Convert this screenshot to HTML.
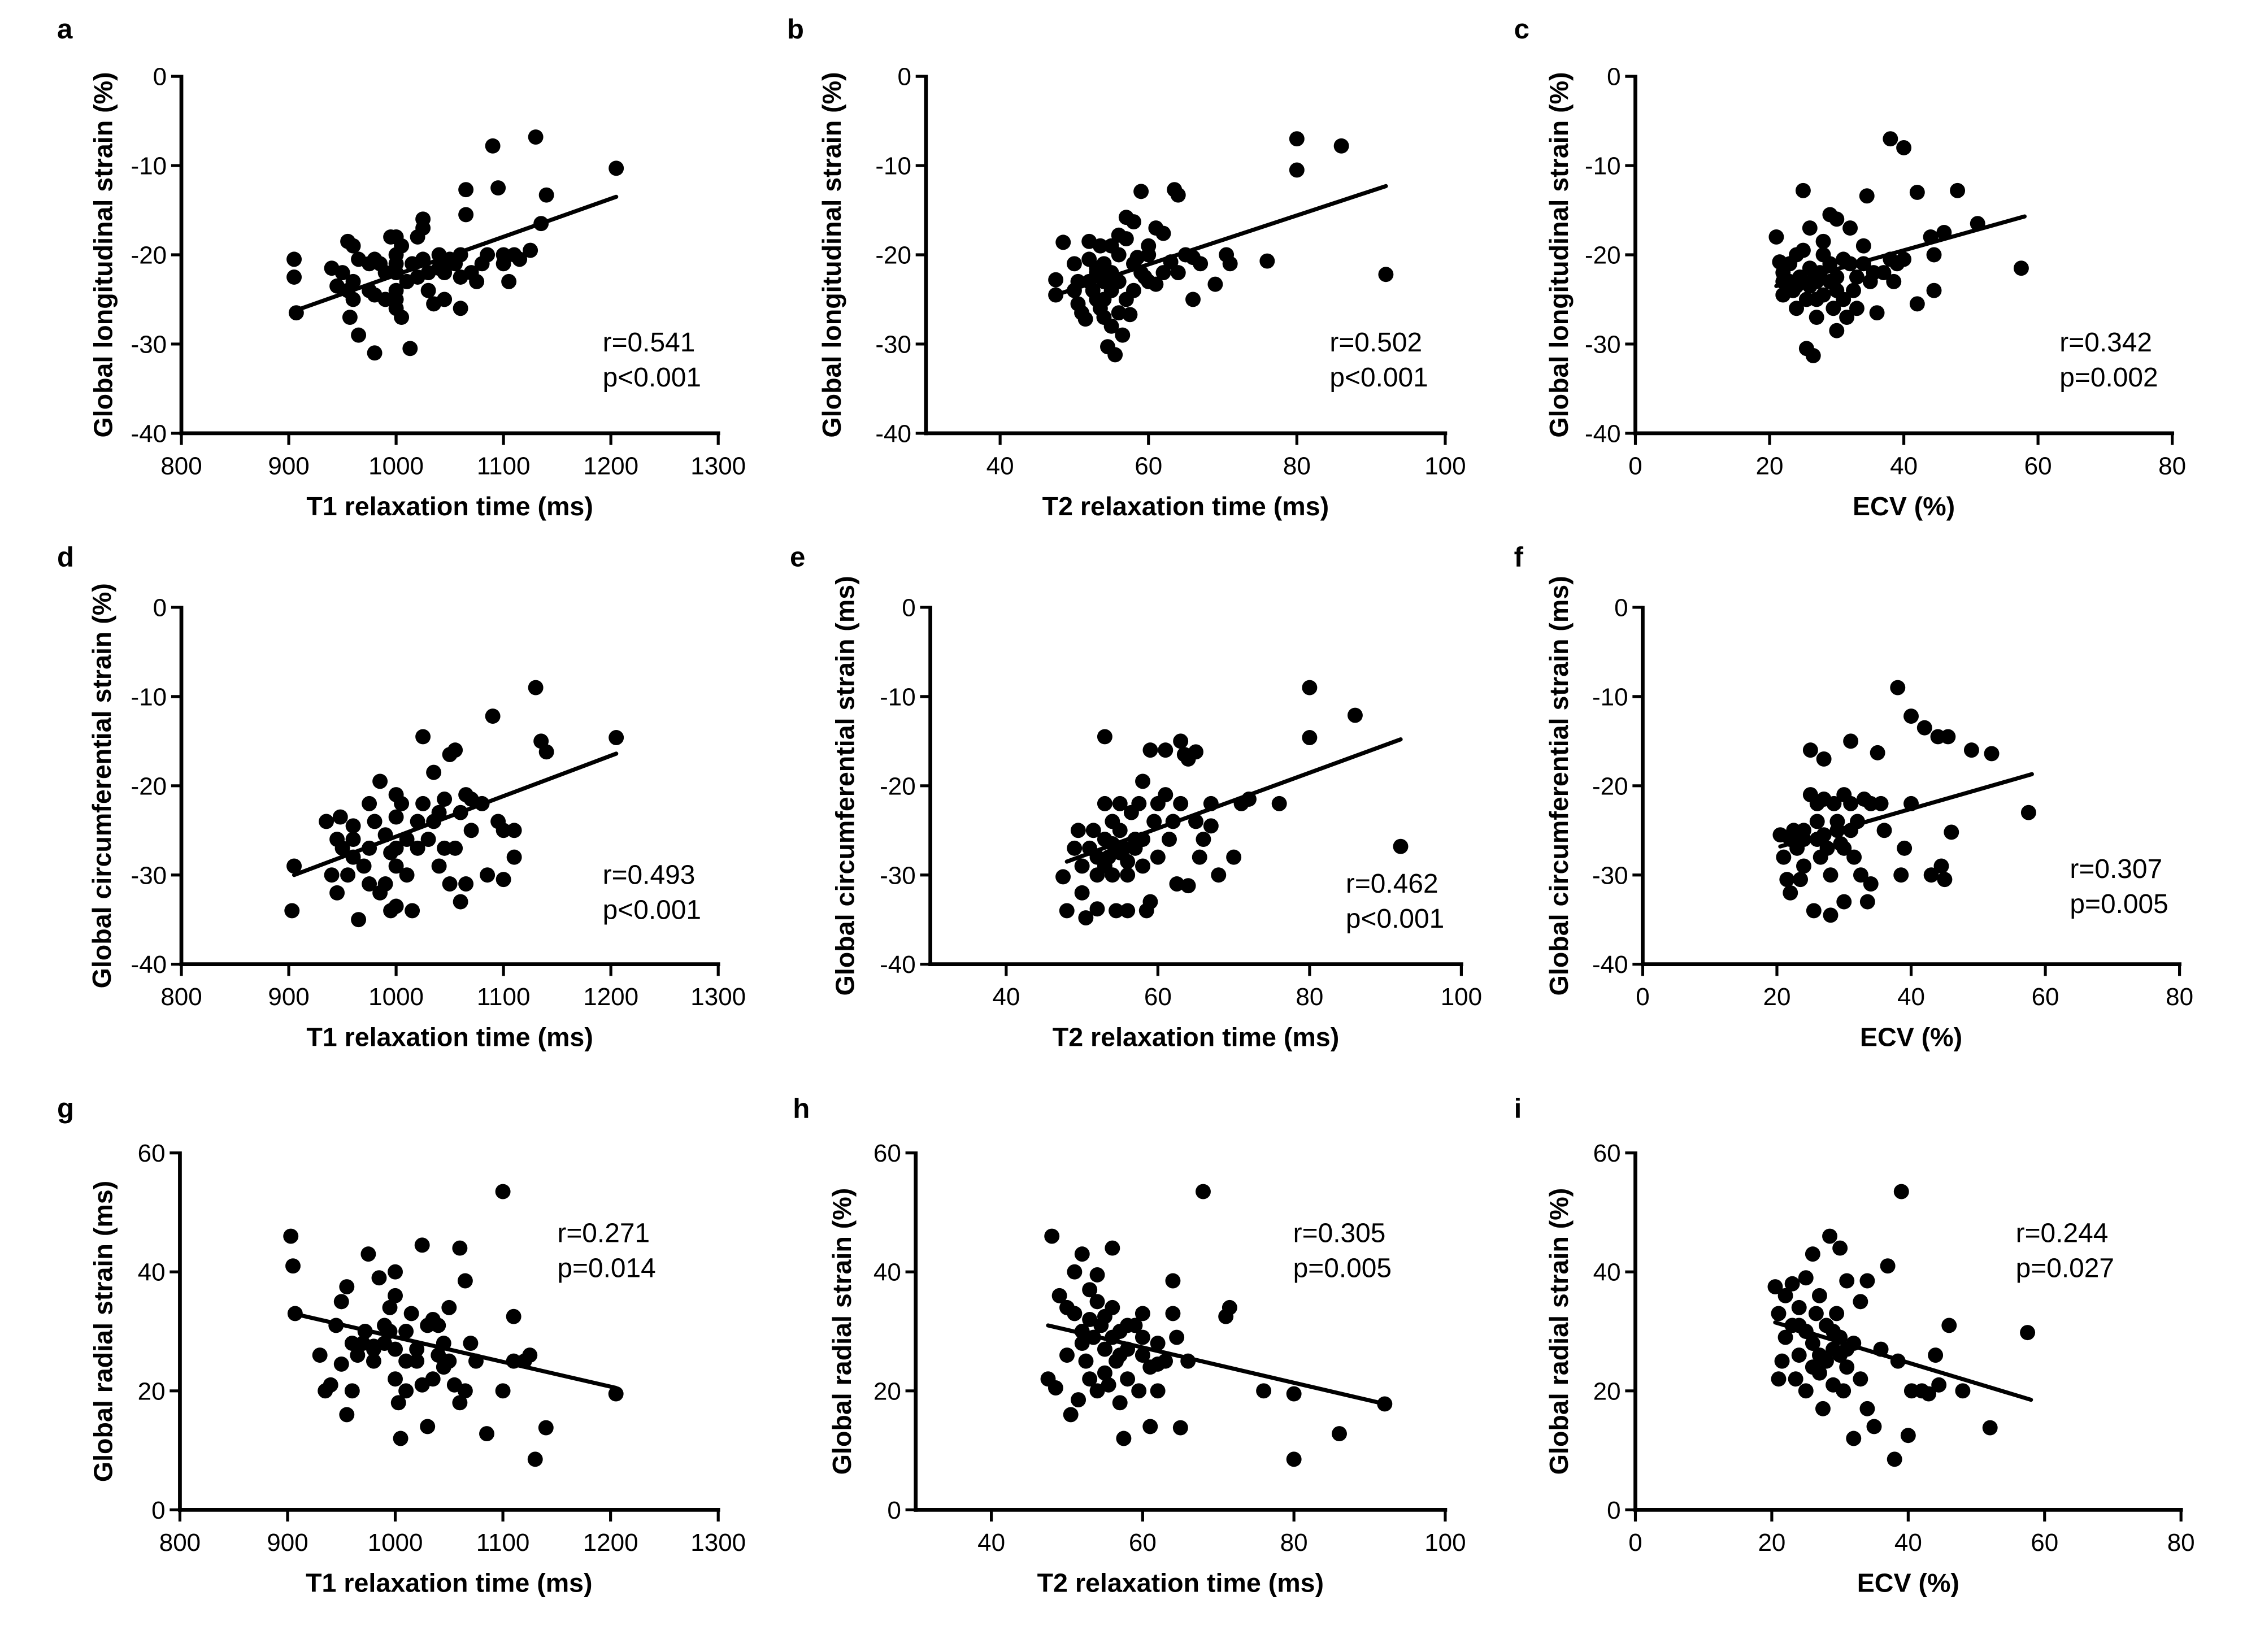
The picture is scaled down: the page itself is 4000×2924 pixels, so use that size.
<!DOCTYPE html>
<html><head><meta charset="utf-8"><style>
html,body{margin:0;padding:0;background:#fff}
svg{display:block}
text{font-family:"Liberation Sans",Arial,sans-serif;fill:#000}
.tick{font-size:17px}
.ttl{font-size:18px;font-weight:bold}
.lbl{font-size:19px;font-weight:bold}
.st{font-size:18.5px}
</style></head><body>
<svg id="fig" width="4000" height="2924" viewBox="0 0 1545 1129" xmlns="http://www.w3.org/2000/svg"></svg>
<script>
// ---- data (x, y) per panel ----
const dataA=[[905,-22.5],[905,-20.5],[907,-26.5],[940,-21.5],[945,-23.5],[950,-22],[955,-24],[955,-18.5],[960,-19],[965,-20.5],[960,-23],[957,-27],[965,-29],[975,-21],[980,-20.5],[985,-21],[975,-24],[980,-31],[990,-25],[995,-18],[1000,-18],[1000,-20],[1000,-22],[1000,-24],[1000,-25],[1000,-26],[1005,-27],[1010,-23],[1005,-19],[1015,-21],[1020,-18],[1013,-30.5],[1025,-16],[1025,-17],[1030,-22],[1030,-24],[1035,-25.5],[1040,-20],[1045,-21],[1045,-22],[1050,-20.5],[1055,-21],[1060,-26],[1060,-20],[1065,-15.5],[1065,-12.7],[1070,-22],[1075,-23],[1080,-21],[1085,-20],[1090,-7.8],[1095,-12.5],[1100,-20],[1100,-21],[1105,-23],[1110,-20],[1115,-20.5],[1125,-19.5],[1130,-6.8],[1135,-16.5],[1140,-13.3],[1205,-10.3],[1000,-21],[990,-22],[1020,-22.5],[980,-24.5],[1025,-20.5],[1040,-21.5],[1060,-22.5],[1045,-25],[960,-25]];
const dataB=[[47.5,-22.8],[47.5,-24.5],[48.5,-18.6],[50,-21],[50,-24],[50.5,-23],[50.5,-25.5],[51,-26.5],[51.5,-27.2],[52,-18.5],[52,-20.5],[52.5,-24],[53,-22],[53,-25],[53.5,-19],[53.5,-26],[54,-21],[54,-23],[54,-27],[54.5,-30.3],[55,-19],[55,-22],[55,-24],[55.5,-31.2],[56,-17.8],[56,-20],[56,-26.5],[56.5,-29],[57,-15.8],[57,-18.2],[57,-25],[57.5,-26.7],[58,-16.3],[58,-21],[58.5,-20.3],[59,-12.9],[59.5,-22.5],[60,-20],[60,-19],[61,-17],[61,-23.3],[62,-17.6],[62,-22],[63,-20.8],[63.5,-12.7],[64,-13.3],[64,-22],[65,-20],[66,-20.3],[66,-25],[67,-21],[69,-23.3],[70.5,-20],[71,-21],[55,-28],[53,-21.5],[52,-23],[54,-25],[56,-23],[58,-24],[59,-22],[60,-23],[76,-20.7],[80,-7],[80,-10.5],[86,-7.8],[92,-22.2]];
const dataC=[[21,-18],[21.5,-20.8],[22,-22],[22,-24.5],[23,-21],[23,-23],[23.5,-24],[24,-20],[24,-26],[24.5,-22.5],[25,-19.5],[25,-12.8],[25.5,-25],[25.5,-30.5],[26,-17],[26,-21.5],[26.5,-31.3],[27,-23],[27,-27],[27.5,-22],[28,-18.5],[28,-20],[28,-24.5],[29,-15.5],[29,-21],[29.5,-26],[30,-16],[30,-22.5],[30,-28.5],[31,-20.5],[31,-25],[31.5,-27],[32,-17],[32,-21],[32.5,-24],[33,-26],[34,-19],[34,-21],[34.5,-13.4],[35,-23],[35.5,-22],[36,-26.5],[37,-22],[38,-20.5],[38,-7],[38.5,-23],[39,-21],[40,-8],[40,-20.5],[42,-13],[42,-25.5],[44,-18],[44.5,-20],[44.5,-24],[46,-17.5],[48,-12.8],[51,-16.5],[57.5,-21.5],[27,-25],[26,-23.5],[29,-23],[24,-23.5],[22,-23],[30,-24],[33,-22.5]];
const dataD=[[903,-34],[905,-29],[935,-24],[940,-30],[945,-26],[945,-32],[948,-23.5],[950,-27],[955,-30],[960,-26],[960,-24.5],[965,-35],[970,-29],[975,-22],[975,-27],[980,-24],[985,-19.5],[985,-32],[990,-25.5],[990,-31],[995,-27.5],[995,-34],[1000,-21],[1000,-23.5],[1000,-29],[1000,-33.5],[1005,-22],[1010,-26],[1015,-34],[1020,-24],[1025,-14.5],[1025,-22],[1030,-26],[1035,-24],[1035,-18.5],[1040,-23],[1045,-21.5],[1050,-16.5],[1050,-31],[1055,-16],[1055,-27],[1060,-33],[1060,-23],[1065,-21],[1065,-31],[1070,-21.5],[1070,-25],[1080,-22],[1085,-30],[1090,-12.2],[1095,-24],[1100,-30.5],[1100,-25],[1110,-28],[1110,-25],[1130,-9],[1135,-15],[1140,-16.2],[1205,-14.6],[960,-28],[1020,-27],[1040,-29],[1000,-27],[975,-31],[1010,-30],[1045,-27]];
const dataE=[[47.5,-30.2],[48,-34],[49,-27],[49.5,-25],[50,-29],[50,-32],[50.5,-34.8],[51,-27],[51.5,-25],[52,-30],[52,-33.8],[53,-14.5],[53,-22],[53,-26],[53.5,-28],[54,-24],[54,-30],[54.5,-34],[55,-22],[55,-25],[55.5,-27],[56,-30],[56,-34],[56.5,-23],[57,-26],[57.5,-22],[58,-19.5],[58,-29],[58.5,-34],[59,-16],[59,-33],[59.5,-24],[60,-22],[60,-28],[61,-16],[61,-21],[61.5,-26],[62,-24],[62.5,-31],[63,-15],[63,-22],[63.5,-16.5],[64,-17],[64,-31.2],[65,-16.2],[65,-24],[65.5,-28],[66,-26],[67,-22],[67,-24.5],[68,-30],[70,-28],[71,-22],[72,-21.5],[76,-22],[80,-9],[80,-14.6],[86,-12.1],[92,-26.8],[52,-28],[54,-26.5],[56,-28.5],[55,-27.5],[57,-27],[58,-26],[53,-29]];
const dataF=[[20.5,-25.5],[21,-28],[21.5,-30.5],[22,-32],[22.5,-25],[23,-27],[23.5,-30.5],[24,-26],[24,-25],[25,-16],[25,-21],[25.5,-34],[26,-22],[26,-24],[26.5,-28],[27,-17],[27,-21.5],[27.5,-27],[28,-30],[28,-34.5],[28.5,-22],[29,-25],[29.5,-26.5],[30,-21],[30,-33],[31,-15],[31,-22],[31.5,-28],[32,-24],[32.5,-30],[33,-21.5],[33.5,-33],[34,-22],[34,-31],[35,-16.3],[35.5,-22],[36,-25],[38,-9],[38.5,-30],[39,-27],[40,-12.2],[40,-22],[42,-13.5],[43,-30],[44,-14.5],[44.5,-29],[45,-30.5],[45.5,-14.5],[46,-25.2],[49,-16],[52,-16.4],[57.5,-23],[27,-25.5],[29,-24],[26,-26],[30,-27],[22,-26],[24,-29],[31,-25]];
const dataG=[[903,46],[905,41],[907,33],[930,26],[935,20],[940,21],[945,31],[950,35],[955,37.5],[950,24.5],[955,16],[960,20],[965,26],[970,28],[972,30],[975,43],[980,27],[980,25],[985,39],[990,28],[990,31],[995,34],[1000,36],[1000,40],[1000,27],[1000,22],[1003,18],[1005,12],[1010,25],[1010,30],[1015,33],[1020,27],[1025,44.5],[1025,21],[1030,14],[1030,31],[1035,22],[1040,31],[1045,24],[1045,28],[1050,34],[1055,21],[1060,44],[1060,18],[1065,20],[1065,38.5],[1070,28],[1075,25],[1085,12.8],[1100,53.5],[1100,20],[1110,32.5],[1110,25],[1120,25],[1125,26],[1130,8.5],[1140,13.8],[1205,19.5],[980,27.5],[1020,25],[1040,26],[995,30],[960,28],[1010,20],[1050,25],[1035,32]];
const dataH=[[47.5,22],[48,46],[48.5,20.5],[49,36],[50,34],[50,26],[50.5,16],[51,33],[51,40],[51.5,18.5],[52,30],[52,43],[52.5,25],[53,22],[53,37],[53.5,29],[54,39.5],[54,20],[54.5,31],[55,27],[55,32.5],[55.5,21],[56,44],[56,34],[56.5,25],[57,30],[57,18],[57.5,12],[58,22],[58,27],[59,31],[59.5,20],[60,33],[60,26],[61,24],[61,14],[62,28],[62,20],[63,25],[64,33],[64,38.5],[64.5,29],[65,13.8],[66,25],[68,53.5],[71,32.5],[71.5,34],[76,20],[80,19.5],[80,8.5],[86,12.8],[92,17.8],[52,28],[54,35],[56,29],[53,32],[55,23],[58,31],[60,29],[62,24.5],[57,26]];
const dataI=[[20.5,37.5],[21,33],[21,22],[21.5,25],[22,36],[22,29],[23,38],[23,31],[23.5,22],[24,26],[24,34],[25,30],[25,39],[25,20],[26,43],[26,28],[26.5,33],[27,23],[27,36],[27.5,17],[28,31],[28,25],[28.5,46],[29,27],[29,21],[29.5,33],[30,44],[30,26],[30.5,20],[31,38.5],[31,24],[32,28],[32,12],[33,35],[33,22],[34,17],[34,38.5],[35,14],[36,27],[37,41],[38,8.5],[38.5,25],[39,53.5],[40,12.5],[40.5,20],[42,20],[43,19.5],[44,26],[44.5,21],[46,31],[48,20],[52,13.8],[57.5,29.8],[25,30],[27,26],[29,30],[31,27],[24,31],[26,24],[30,29]];
// regression line endpoints
const fitA=[[905,-26.3],[1205,-13.5]];
const fitB=[[47.5,-24.5],[92,-12.3]];
const fitC=[[21,-23.5],[58,-15.7]];
const fitD=[[905,-30],[1205,-16.4]];
const fitE=[[48,-28.5],[92,-14.8]];
const fitF=[[20.5,-26.8],[58,-18.7]];
const fitG=[[905,33],[1205,20.5]];
const fitH=[[47.5,31],[92,17.8]];
const fitI=[[20.5,31.5],[58,18.5]];
// tick labels
const ticksT1=[800,900,1000,1100,1200,1300];
const ticksT2=[40,60,80,100];
const ticksECV=[0,20,40,60,80];
const ticksNeg=[0,-10,-20,-30,-40];
const ticksRad=[0,20,40,60];
const statsR=["r=0.541","r=0.502","r=0.342","r=0.493","r=0.462","r=0.307","r=0.271","r=0.305","r=0.244"];
const statsP=["p<0.001","p<0.001","p=0.002","p<0.001","p<0.001","p=0.005","p=0.014","p=0.005","p=0.027"];

const NS="http://www.w3.org/2000/svg";
const svg=document.getElementById('fig');
function mk(tag,attrs,parent){const e=document.createElementNS(NS,tag);for(const k in attrs)e.setAttribute(k,attrs[k]);(parent||svg).appendChild(e);return e;}

const panels=[
 {id:'a',data:dataA,fit:fitA,x0:124,x1:491,yb:296,xd:[800,1300],yd:[-40,0],xt:ticksT1,yt:ticksNeg,xl:'T1 relaxation time (ms)',yl:'Global longitudinal strain (%)',yx:72,lx:39,ly:26,sx:412,sy:240},
 {id:'b',data:dataB,fit:fitB,x0:633,x1:988,yb:296,xd:[30,100],yd:[-40,0],xt:ticksT2,yt:ticksNeg,xl:'T2 relaxation time (ms)',yl:'Global longitudinal strain (%)',yx:570,lx:538,ly:26,sx:909,sy:240},
 {id:'c',data:dataC,fit:fitC,x0:1118,x1:1485,yb:296,xd:[0,80],yd:[-40,0],xt:ticksECV,yt:ticksNeg,xl:'ECV (%)',yl:'Global longitudinal strain (%)',yx:1067,lx:1035,ly:26,sx:1408,sy:240},
 {id:'d',data:dataD,fit:fitD,x0:124,x1:491,yb:659,xd:[800,1300],yd:[-40,0],xt:ticksT1,yt:ticksNeg,xl:'T1 relaxation time (ms)',yl:'Global circumferential strain (%)',yx:71,lx:39,ly:387,sx:412,sy:604},
 {id:'e',data:dataE,fit:fitE,x0:636,x1:999,yb:659,xd:[30,100],yd:[-40,0],xt:ticksT2,yt:ticksNeg,xl:'T2 relaxation time (ms)',yl:'Global circumferential strain (ms)',yx:579,lx:540,ly:387,sx:920,sy:610},
 {id:'f',data:dataF,fit:fitF,x0:1123,x1:1490,yb:659,xd:[0,80],yd:[-40,0],xt:ticksECV,yt:ticksNeg,xl:'ECV (%)',yl:'Global circumferential strain (ms)',yx:1067,lx:1035,ly:387,sx:1415,sy:600},
 {id:'g',data:dataG,fit:fitG,x0:123,x1:491,yb:1032,xd:[800,1300],yd:[0,60],xt:ticksT1,yt:ticksRad,xl:'T1 relaxation time (ms)',yl:'Global radial strain (ms)',yx:72,lx:39,ly:764,sx:381,sy:849},
 {id:'h',data:dataH,fit:fitH,x0:626,x1:988,yb:1032,xd:[30,100],yd:[0,60],xt:ticksT2,yt:ticksRad,xl:'T2 relaxation time (ms)',yl:'Global radial strain (%)',yx:577,lx:542,ly:764,sx:884,sy:849},
 {id:'i',data:dataI,fit:fitI,x0:1118,x1:1491,yb:1032,xd:[0,80],yd:[0,60],xt:ticksECV,yt:ticksRad,xl:'ECV (%)',yl:'Global radial strain (%)',yx:1067,lx:1035,ly:764,sx:1378,sy:849}
];
const H=244;
panels.forEach((p,idx)=>{
  const g=mk('g',{});
  
  
  const yt=p.yb-H;
  const X=v=>p.x0+(v-p.xd[0])/(p.xd[1]-p.xd[0])*(p.x1-p.x0);
  const Y=v=>p.yb-(v-p.yd[0])/(p.yd[1]-p.yd[0])*H;
  const lt=mk('text',{x:p.lx,y:p.ly,class:'lbl'},g);lt.textContent=p.id;
  
  
  const ya=mk('line',{x1:p.x0,y1:yt-1,x2:p.x0,y2:p.yb+1.3,stroke:'#000','stroke-width':2.6},g);
  
  
  const xa=mk('line',{x1:p.x0-1.3,y1:p.yb,x2:p.x1+1.3,y2:p.yb,stroke:'#000','stroke-width':2.6},g);
  
  
  p.yt.forEach(v=>{
    mk('line',{x1:p.x0-7,y1:Y(v),x2:p.x0,y2:Y(v),stroke:'#000','stroke-width':2},g);
    const t=mk('text',{x:p.x0-10,y:Y(v)+6,class:'tick','text-anchor':'end'},g);t.textContent=v;
    
    
  });
  p.xt.forEach(v=>{
    mk('line',{x1:X(v),y1:p.yb,x2:X(v),y2:p.yb+8,stroke:'#000','stroke-width':2},g);
    const t=mk('text',{x:X(v),y:p.yb+28,class:'tick','text-anchor':'middle'},g);t.textContent=v;
    
    
  });
  const xt=mk('text',{x:(p.x0+p.x1)/2,y:p.yb+56,class:'ttl','text-anchor':'middle'},g);xt.textContent=p.xl;
  
  
  const cy=(yt+p.yb)/2;
  const yl=mk('text',{x:p.yx,y:cy,class:'ttl','text-anchor':'middle',transform:`rotate(-90 ${p.yx} ${cy})`,'dominant-baseline':'middle'},g);yl.textContent=p.yl;
  
  
  p.data.forEach(d=>{
    const c=mk('circle',{cx:X(d[0]),cy:Y(d[1]),r:5.2,fill:'#000'},g);
    
    
  });
  const ln=mk('line',{x1:X(p.fit[0][0]),y1:Y(p.fit[0][1]),x2:X(p.fit[1][0]),y2:Y(p.fit[1][1]),stroke:'#000','stroke-width':2.8,'stroke-linecap':'round'},g);
  
  
  const r=mk('text',{x:p.sx,y:p.sy,class:'st'},g);r.textContent=statsR[idx];
  
  
  const pv=mk('text',{x:p.sx,y:p.sy+24,class:'st'},g);pv.textContent=statsP[idx];
  
  
});
</script>
</body></html>
